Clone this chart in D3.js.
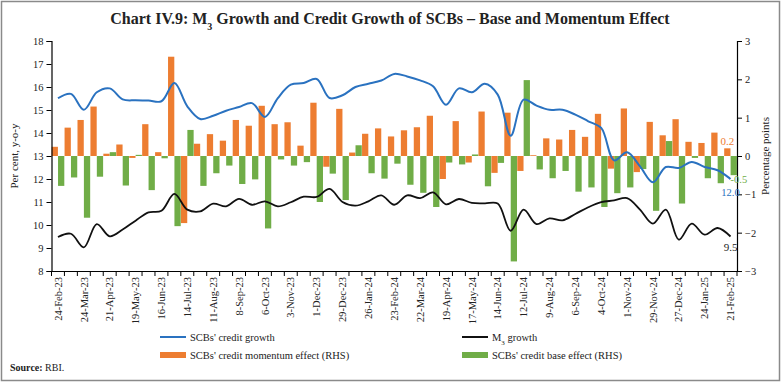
<!DOCTYPE html>
<html>
<head>
<meta charset="utf-8">
<style>
body { margin: 0; background: #fff; }
text { font-family: "Liberation Serif", "DejaVu Serif", serif; }
</style>
</head>
<body>
<script src="https://cdn.jsdelivr.net/npm/d3@7"></script>
<script>
// fortnightly reporting dates
var dates = ["24-Feb-23","10-Mar-23","24-Mar-23","7-Apr-23","21-Apr-23","5-May-23","19-May-23","2-Jun-23","16-Jun-23","30-Jun-23",
  "14-Jul-23","28-Jul-23","11-Aug-23","25-Aug-23","8-Sep-23","22-Sep-23","6-Oct-23","20-Oct-23","3-Nov-23","17-Nov-23",
  "1-Dec-23","15-Dec-23","29-Dec-23","12-Jan-24","26-Jan-24","9-Feb-24","23-Feb-24","8-Mar-24","22-Mar-24","5-Apr-24",
  "19-Apr-24","3-May-24","17-May-24","31-May-24","14-Jun-24","28-Jun-24","12-Jul-24","26-Jul-24","9-Aug-24","23-Aug-24",
  "6-Sep-24","20-Sep-24","4-Oct-24","18-Oct-24","1-Nov-24","15-Nov-24","29-Nov-24","13-Dec-24","27-Dec-24","10-Jan-25",
  "24-Jan-25","7-Feb-25","21-Feb-25"];

// only every second date gets a label
var tickLabels = dates.filter(function(d, i) { return i % 2 == 0; });

// SCBs' credit growth (per cent, y-o-y)
var creditGrowth = [15.51,15.70,15.01,15.77,15.94,15.46,15.42,15.41,15.38,16.17,
  15.16,14.61,14.75,14.97,15.13,15.30,14.70,15.52,16.10,16.17,
  16.35,15.52,15.64,16.00,16.14,16.28,16.57,16.46,16.29,16.03,
  15.23,15.94,15.77,16.14,15.67,13.88,15.45,15.19,15.01,15.01,
  14.80,14.51,14.22,12.81,13.16,12.55,11.86,12.52,12.48,12.74,
  12.52,12.38,12.0];

// M3 growth (per cent, y-o-y)
var m3Growth = [9.48,9.62,9.03,10.04,9.51,9.80,10.19,10.55,10.62,11.35,
  10.67,10.59,10.93,10.81,11.14,10.88,11.03,10.81,10.99,11.23,
  11.22,11.57,11.00,10.84,11.03,11.29,10.88,11.29,11.17,11.42,
  10.90,11.13,10.96,10.94,10.93,9.75,10.67,10.04,10.29,10.20,
  10.48,10.77,10.99,11.07,11.17,10.67,10.06,10.67,9.36,10.06,
  9.58,9.87,9.5];

// momentum effect (percentage points, RHS)
var momentum = [0.24,0.74,0.94,1.29,0.06,0.30,-0.05,0.83,0.10,2.59,
  -1.75,0.32,0.57,0.40,0.94,0.79,1.31,0.83,0.88,0.27,
  1.39,-0.28,1.23,0.09,0.58,0.72,0.51,0.67,0.75,1.05,
  -0.60,0.91,-0.17,1.16,-0.44,1.13,-0.39,0.02,0.46,0.43,
  0.68,0.50,1.10,-0.33,1.24,-0.42,0.89,0.54,0.96,0.37,
  0.34,0.61,0.2];

// base effect (percentage points, RHS)
var baseEffect = [-0.78,-0.56,-1.61,-0.54,0.10,-0.77,0.03,-0.89,-0.06,-1.83,
  0.68,-0.78,-0.45,-0.25,-0.73,-0.61,-1.89,-0.09,-0.25,-0.16,
  -1.20,-0.46,-1.15,0.28,-0.45,-0.59,-0.20,-0.75,-0.96,-1.33,
  -0.17,-0.22,0.04,-0.79,-0.18,-2.75,1.98,-0.35,-0.58,-0.39,
  -0.93,-0.82,-1.33,-0.97,-0.82,-0.34,-1.43,0.39,-1.24,-0.05,
  -0.58,-0.71,-0.5];

var leftTicks = [8,9,10,11,12,13,14,15,16,17,18];
var rightTicks = [-3,-2,-1,0,1,2,3];

var width = 781, height = 382;
var blue = "#2a72c0", orange = "#ed7d31", green = "#70ad47";

var svg = d3.select("body").append("svg")
  .attr("width", width)
  .attr("height", height);

// outer frame
svg.append("rect")
  .attr("x", 1.5).attr("y", 1.5)
  .attr("width", width - 3).attr("height", height - 3)
  .attr("fill", "none")
  .attr("stroke", "#8a8a8a")
  .attr("stroke-width", 1.5);

// title
var title = svg.append("text")
  .attr("x", 390).attr("y", 24)
  .attr("text-anchor", "middle")
  .style("font-size", "16px")
  .style("font-weight", "bold")
  .attr("fill", "#222");
title.append("tspan").text("Chart IV.9: M");
title.append("tspan").attr("baseline-shift", "sub").style("font-size", "10px").text("3");
title.append("tspan").text(" Growth and Credit Growth of SCBs \u2013 Base and Momentum Effect");

var plotL = 51.5, plotR = 737, plotT = 41, plotB = 271;

var x = d3.scaleBand().domain(dates).range([plotL, plotR]).padding(0);
var xs = d3.scaleBand().domain(["m", "b"]).range([0, x.bandwidth()]).paddingInner(0.02).paddingOuter(0.02);
var yL = d3.scaleLinear().domain([8, 18]).range([plotB, plotT]);
var yR = d3.scaleLinear().domain([-3, 3]).range([plotB, plotT]);

// bars
var bars = svg.append("g").attr("class", "bars");
bars.selectAll(".mom").data(dates).enter().append("rect")
  .attr("class", "mom")
  .attr("x", function(d) { return x(d) + xs("m"); })
  .attr("width", xs.bandwidth())
  .attr("y", function(d, i) { return yR(Math.max(0, momentum[i])); })
  .attr("height", function(d, i) { return Math.abs(yR(momentum[i]) - yR(0)); })
  .attr("fill", orange);

bars.selectAll(".base").data(dates).enter().append("rect")
  .attr("class", "base")
  .attr("x", function(d) { return x(d) + xs("b"); })
  .attr("width", xs.bandwidth())
  .attr("y", function(d, i) { return yR(Math.max(0, baseEffect[i])); })
  .attr("height", function(d, i) { return Math.abs(yR(baseEffect[i]) - yR(0)); })
  .attr("fill", green);

// smoothed lines
var cx = function(d) { return x(d) + x.bandwidth() / 2; };

var creditLine = d3.line()
  .x(function(d, i) { return cx(dates[i]); })
  .y(function(d) { return yL(d); })
  .curve(d3.curveCatmullRom);

svg.append("path")
  .datum(creditGrowth)
  .attr("d", creditLine)
  .attr("fill", "none")
  .attr("stroke", blue)
  .attr("stroke-width", 2);

svg.append("path")
  .datum(m3Growth)
  .attr("d", creditLine)
  .attr("fill", "none")
  .attr("stroke", "#111")
  .attr("stroke-width", 1.8);

// axes
var axL = svg.append("g")
  .attr("transform", "translate(" + plotL + ",0)")
  .call(d3.axisLeft(yL).tickValues(leftTicks).tickSize(5).tickFormat(d3.format("d")));

var axR = svg.append("g")
  .attr("transform", "translate(" + plotR + ",0)")
  .call(d3.axisRight(yR).tickValues(rightTicks).tickSize(5).tickFormat(d3.format("d")));

var axB = svg.append("g")
  .attr("transform", "translate(0," + plotB + ")")
  .call(d3.axisBottom(x).tickValues(tickLabels).tickSize(0).tickPadding(6));

axB.selectAll("text")
  .attr("transform", "rotate(-90)")
  .attr("text-anchor", "end")
  .attr("x", -6)
  .attr("y", 0)
  .attr("dy", "0.35em");

// tick marks between categories
axB.selectAll(".sep").data(dates.concat(["end"])).enter().append("line")
  .attr("class", "sep")
  .attr("x1", function(d) { return d == "end" ? plotR : x(d); })
  .attr("x2", function(d) { return d == "end" ? plotR : x(d); })
  .attr("y1", 0).attr("y2", 5)
  .attr("stroke", "#000");

[axL, axR, axB].forEach(function(a) {
  a.selectAll("path.domain").attr("stroke", "#000").attr("stroke-width", 1.2);
  a.selectAll("text").style("font-size", "10.5px").attr("fill", "#222").style("font-family", "'Liberation Serif', serif");
});

// axis titles
svg.append("text")
  .attr("transform", "translate(18," + (plotT + plotB) / 2 + ") rotate(-90)")
  .attr("text-anchor", "middle")
  .style("font-size", "11px")
  .attr("fill", "#222")
  .text("Per cent, y-o-y");

svg.append("text")
  .attr("transform", "translate(769," + (plotT + plotB) / 2 + ") rotate(-90)")
  .attr("text-anchor", "middle")
  .style("font-size", "11px")
  .attr("fill", "#222")
  .text("Percentage points");

// end labels
var last = dates[dates.length - 1];
var n = dates.length - 1;
svg.append("text")
  .attr("x", x(last) + xs("m") + xs.bandwidth() / 2)
  .attr("y", yR(momentum[n]) - 3)
  .attr("text-anchor", "middle")
  .style("font-size", "11px")
  .attr("fill", orange)
  .text(momentum[n].toFixed(1));

svg.append("text")
  .attr("x", x(last) + xs("b"))
  .attr("y", yR(baseEffect[n]) + 8)
  .style("font-size", "10.5px")
  .attr("fill", green)
  .text(baseEffect[n].toFixed(1));

svg.append("text")
  .attr("x", cx(last))
  .attr("y", yL(creditGrowth[n]) + 17)
  .attr("text-anchor", "middle")
  .style("font-size", "10.5px")
  .attr("fill", blue)
  .text(creditGrowth[n].toFixed(1));

svg.append("text")
  .attr("x", cx(last))
  .attr("y", yL(m3Growth[n]) + 14)
  .attr("text-anchor", "middle")
  .style("font-size", "11px")
  .attr("fill", "#222")
  .text(m3Growth[n].toFixed(1));

// legend
var leg = svg.append("g").style("font-size", "10.5px");
var items = [
  {type: "line", color: blue, x: 160, y: 337, label: "SCBs' credit growth"},
  {type: "line", color: "#111", x: 462, y: 337, label: "M3"},
  {type: "rect", color: orange, x: 160, y: 355, label: "SCBs' credit momentum effect (RHS)"},
  {type: "rect", color: green, x: 462, y: 355, label: "SCBs' credit base effect (RHS)"}
];
items.forEach(function(it) {
  if (it.type == "line") {
    leg.append("line")
      .attr("x1", it.x).attr("x2", it.x + 26)
      .attr("y1", it.y).attr("y2", it.y)
      .attr("stroke", it.color).attr("stroke-width", 2);
  } else {
    leg.append("rect")
      .attr("x", it.x).attr("y", it.y - 3)
      .attr("width", 26).attr("height", 6)
      .attr("fill", it.color);
  }
  var t = leg.append("text")
    .attr("x", it.x + 30).attr("y", it.y + 4)
    .attr("fill", "#222");
  if (it.label == "M3") {
    t.append("tspan").text("M");
    t.append("tspan").attr("baseline-shift", "sub").style("font-size", "7px").text("3");
    t.append("tspan").text(" growth");
  } else {
    t.text(it.label);
  }
});

// source
var src = svg.append("text")
  .attr("x", 10).attr("y", 371)
  .style("font-size", "10px")
  .attr("fill", "#222");
src.append("tspan").style("font-weight", "bold").text("Source:");
src.append("tspan").text(" RBI.");
</script>
</body>
</html>
